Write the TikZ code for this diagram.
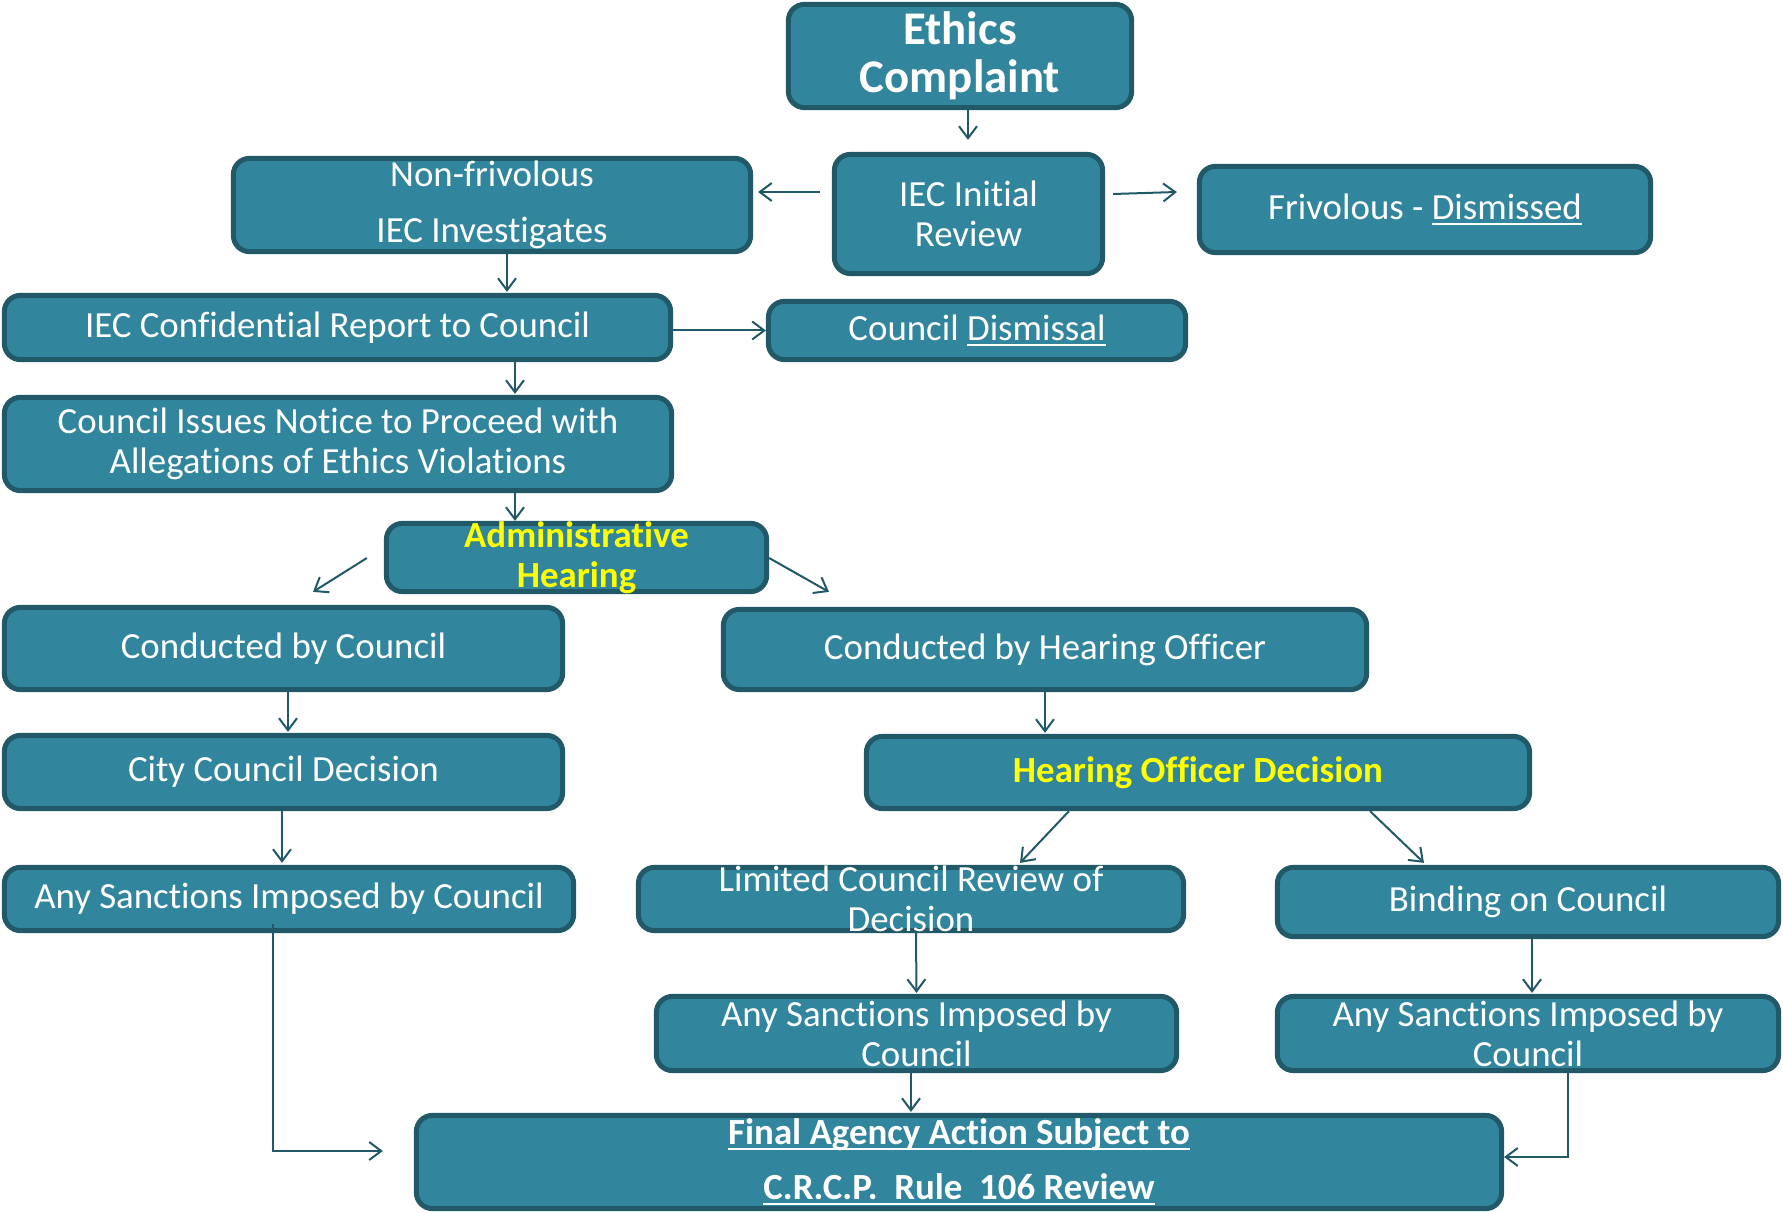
\documentclass[tikz,border=0pt]{standalone}
\usepackage{fontspec}
\setmainfont{Carlito}[RawFeature={-liga;-clig;-rlig;-dlig}]
\usetikzlibrary{arrows.meta,calc}

\definecolor{boxteal}{HTML}{31859C}
\definecolor{edgeteal}{HTML}{215968}
\definecolor{hiyellow}{HTML}{FFFF00}

\newcommand{\bodysize}{\fontsize{18.5}{20}\selectfont}
\newcommand{\titlesize}{\fontsize{23.5}{24}\selectfont}
\newcommand{\undl}[1]{\setbox0\hbox{#1}\rlap{\rule[-2.6pt]{\wd0}{1.1pt}}\box0}

\begin{document}
\begin{tikzpicture}[x=0.5bp,y=-0.5bp,
  stage/.style={draw=edgeteal,fill=boxteal,line width=2.5bp,rounded corners=8bp,
    text=white,font=\bodysize,align=center,inner xsep=0pt,inner ysep=-6bp},
  hilite/.style={text=hiyellow,font=\bodysize\bfseries},
  flow/.style={draw=edgeteal,line width=1bp,-{Straight Barb[length=6bp,width=9bp]}}]
\useasboundingbox (0,0) rectangle (1783,1213);

\node[stage,font=\titlesize\bfseries,minimum width=171.6bp,minimum height=51.6bp] (ec) at (960,56) {Ethics\\Complaint};
\node[stage,minimum width=134.1bp,minimum height=59.6bp] (ir) at (968.5,214) {IEC Initial\\Review};
\node[stage,minimum width=258.6bp,minimum height=46.6bp] (nf) at (492,205) {Non-frivolous\\[8bp]IEC Investigates};
\node[stage,minimum width=225.6bp,minimum height=43.1bp] (fd) at (1425,209.5) {Frivolous - \undl{Dismissed}};
\node[stage,minimum width=333.1bp,minimum height=32.1bp] (cr) at (337.5,327.5) {IEC Confidential Report to Council};
\node[stage,minimum width=208.6bp,minimum height=29.1bp] (cd) at (977,330.5) {Council \undl{Dismissal}};
\node[stage,minimum width=333.6bp,minimum height=46.6bp] (ci) at (338,444) {Council Issues Notice to Proceed with\\Allegations of Ethics Violations};
\node[stage,hilite,minimum width=190.1bp,minimum height=34.1bp] (ah) at (576.5,557.5) {Administrative\\Hearing};
\node[stage,minimum width=279.1bp,minimum height=41.1bp] (cc) at (283.5,648.5) {Conducted by Council};
\node[stage,minimum width=321.6bp,minimum height=40.1bp] (ch) at (1045,649.5) {Conducted by Hearing Officer};
\node[stage,minimum width=279.1bp,minimum height=36.6bp] (ccd) at (283.5,772) {City Council Decision};
\node[stage,hilite,minimum width=331.6bp,minimum height=36.1bp] (hod) at (1198,772.5) {Hearing Officer Decision};
\node[stage,minimum width=284.6bp,minimum height=31.6bp] (as1) at (289,899) {Any Sanctions Imposed by Council};
\node[stage,minimum width=272.6bp,minimum height=31.6bp] (lr) at (911,899) {Limited Council Review of\\Decision};
\node[stage,minimum width=250.6bp,minimum height=34.6bp] (bc) at (1528,902) {Binding on Council};
\node[stage,minimum width=260.1bp,minimum height=37.1bp] (as2) at (916.5,1033.5) {Any Sanctions Imposed by\\Council};
\node[stage,minimum width=250.6bp,minimum height=37.1bp] (as3) at (1528,1033.5) {Any Sanctions Imposed by\\Council};
\node[stage,font=\bodysize\bfseries,minimum width=542.6bp,minimum height=46.6bp] (fa) at (959,1162) {\undl{Final Agency Action Subject to}\\[7.5bp]\undl{C.R.C.P.\ \ Rule\ \ 106 Review}};

\path[draw,flow] ($(ec.south)+(8,0)$) -- ($(ir.north)+(-0.5,-12)$);
\path[draw,flow] ($(ir.west)+(-12,-22)$) -- ($(nf.east)+(5,-13)$);
\path[draw,flow] ($(ir.east)+(8,-20)$) -- ($(fd.west)+(-20,-17.5)$);
\path[draw,flow] ($(nf.south)+(15,0)$) -- ($(cr.north)+(169.5,-1)$);
\path[draw,flow] (cr.east |- cd.west) -- (cd.west);
\path[draw,flow] ($(cr.south)+(177.5,0)$) -- ($(ci.north)+(177,-1)$);
\path[draw,flow] ($(ci.south)+(177,-4)$) -- ($(ah.north)+(-61.5,0)$);
\path[draw,flow] ($(ah.west)+(-17,0.5)$) -- ($(cc.north)+(29.5,-13)$);
\path[draw,flow] ($(ah.east)+(0,0.5)$) -- ($(ch.north)+(-216,-15)$);
\path[draw,flow] ($(cc.south)+(4.5,0)$) -- ($(ccd.north)+(4.5,-1)$);
\path[draw,flow] (ch.south) -- ($(hod.north)+(-153,-1)$);
\path[draw,flow] ($(ccd.south)+(-1.5,0)$) -- ($(as1.north)+(-7,-2)$);
\path[draw,flow] ($(hod.south)+(-129,0)$) -- ($(lr.north)+(109,-2)$);
\path[draw,flow] ($(hod.south)+(172,0)$) -- ($(bc.north)+(-104,-2)$);
\path[draw,flow] ($(lr.south)+(5,0)$) -- ($(as2.north)+(0,-1)$);
\path[draw,flow] ($(bc.south)+(4,0)$) -- ($(as3.north)+(4,-1)$);
\path[draw,flow] ($(as2.south)+(-5.5,0)$) -- ($(fa.north)+(-48,-1)$);
\path[draw,flow] ($(as1.south)+(-16,-9)$) |- ($(fa.west)+(-31,-11)$);
\path[draw,flow] ($(as3.south)+(40,0)$) |- ($(fa.east)+(0,-5)$);
\end{tikzpicture}
\end{document}
